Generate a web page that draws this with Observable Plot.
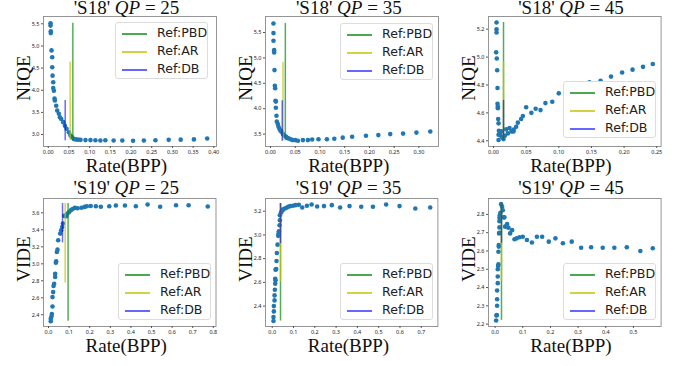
<!DOCTYPE html>
<html><head><meta charset="utf-8">
<script src="https://cdn.jsdelivr.net/npm/d3@7"></script>
<script src="https://cdn.jsdelivr.net/npm/@observablehq/plot@0.6"></script>
<style>
body{margin:0;background:#fff;}
#root{position:relative;width:678px;height:366px;overflow:hidden;background:#fff;}
#root svg.pane{position:absolute;overflow:visible;}
#labels{position:absolute;left:0;top:0;}
#labels text{font-family:'Liberation Serif','Times New Roman',serif;font-size:19px;fill:#111;}
.legend{position:absolute;background:#fff;border:1px solid #dcdcdc;border-radius:3px;box-sizing:border-box;font-family:'DejaVu Sans',sans-serif;font-size:12.6px;color:#222;}
.legend svg{position:absolute;left:0;top:0;}
.legend .tx{position:absolute;line-height:1;transform:translateY(-52%);white-space:nowrap;}
</style></head>
<body><div id="root"></div>
<script>
// ---------- data ----------
const refNames = ["Ref:PBD", "Ref:AR", "Ref:DB"];

// 'S18' QP=25 (NIQE)
const s18q25Rate = [0.0056,0.0056,0.0062,0.0062,0.0080,0.0097,0.0097,0.0105,0.0121,0.0121,0.0137,0.0153,0.0161,0.0193,0.0217,0.0257,0.0282,0.0314,0.0362,0.0403,0.0443,0.0499,0.0539,0.0580,0.062,0.066,0.072,0.078,0.090,0.102,0.114,0.126,0.138,0.158,0.179,0.205,0.231,0.259,0.291,0.320,0.352,0.384];
const s18q25Niqe = [5.51,5.46,5.33,5.29,4.90,4.745,4.52,4.33,4.18,4.05,3.99,3.81,3.77,3.65,3.54,3.47,3.39,3.35,3.28,3.20,3.13,3.05,2.98,2.94,2.90,2.89,2.885,2.88,2.875,2.875,2.87,2.865,2.87,2.865,2.865,2.86,2.865,2.87,2.88,2.885,2.89,2.91];
const s18q25RefX = [0.0595, 0.053, 0.041];
const s18q25RefLo = [2.865, 2.865, 2.86];
const s18q25RefHi = [5.51, 4.63, 3.77];

// 'S18' QP=35 (NIQE)
const s18q35Rate = [0.006,0.006,0.006,0.0074,0.0074,0.0081,0.0088,0.0094,0.0101,0.0108,0.0108,0.0121,0.0128,0.0148,0.0162,0.0182,0.0202,0.0222,0.025,0.0283,0.0317,0.035,0.0384,0.0418,0.045,0.050,0.0554,0.0655,0.0756,0.0843,0.097,0.114,0.129,0.146,0.165,0.193,0.218,0.242,0.268,0.295,0.323];
const s18q35Niqe = [5.677,5.488,5.337,5.153,5.106,4.76,4.45,4.405,4.156,4.14,4.02,3.86,3.748,3.697,3.644,3.60,3.566,3.547,3.50,3.467,3.447,3.42,3.409,3.395,3.382,3.382,3.37,3.382,3.382,3.395,3.40,3.40,3.41,3.43,3.447,3.467,3.48,3.50,3.51,3.53,3.55];
const s18q35RefX = [0.030, 0.0253, 0.0237];
const s18q35RefLo = [3.37, 3.37, 3.36];
const s18q35RefHi = [5.677, 4.91, 4.156];

// 'S18' QP=45 (NIQE)
const s18q45Rate = [0.0046,0.0046,0.0046,0.0040,0.0050,0.0056,0.0061,0.0061,0.0066,0.0066,0.0071,0.0077,0.0082,0.0077,0.0077,0.0097,0.0107,0.0122,0.0133,0.0153,0.0173,0.0194,0.0219,0.0245,0.0276,0.0306,0.031,0.0347,0.0372,0.0423,0.0449,0.050,0.058,0.0645,0.072,0.0795,0.090,0.100,0.115,0.130,0.147,0.164,0.180,0.197,0.213,0.229,0.244];
const s18q45Niqe = [5.248,5.200,5.176,5.034,4.990,4.906,4.778,4.665,4.646,4.634,4.556,4.525,4.472,4.443,4.405,4.453,4.438,4.467,4.424,4.412,4.436,4.482,4.453,4.491,4.467,4.467,4.48,4.501,4.53,4.556,4.578,4.64,4.60,4.63,4.62,4.67,4.68,4.74,4.76,4.79,4.82,4.83,4.86,4.89,4.91,4.93,4.95];
const s18q45RefX = [0.0153, 0.0153, 0.0153];
const s18q45RefLo = [4.405, 4.405, 4.405];
const s18q45RefHi = [5.248, 4.966, 4.689];

// 'S19' QP=25 (VIDE)
const s19q25Rate = [0.011,0.011,0.0146,0.0162,0.0194,0.0194,0.0227,0.0243,0.0275,0.0324,0.0324,0.0356,0.0373,0.0405,0.0437,0.047,0.0567,0.0616,0.0664,0.0697,0.0761,0.081,0.0859,0.0923,0.1004,0.1085,0.1166,0.128,0.141,0.16,0.175,0.186,0.205,0.23,0.254,0.295,0.327,0.371,0.424,0.481,0.542,0.619,0.68,0.773];
const s19q25Vide = [2.325,2.352,2.379,2.41,2.497,2.608,2.667,2.738,2.765,2.844,2.883,3.013,3.03,3.14,3.167,3.277,3.356,3.395,3.434,3.474,3.564,3.564,3.56,3.592,3.61,3.63,3.645,3.659,3.655,3.66,3.67,3.678,3.68,3.678,3.672,3.678,3.686,3.686,3.678,3.698,3.672,3.69,3.69,3.674];
const s19q25RefX = [0.095, 0.081, 0.068];
const s19q25RefLo = [2.325, 2.774, 3.246];
const s19q25RefHi = [3.71, 3.71, 3.71];

// 'S19' QP=35 (VIDE)
const s19q35Rate = [0.006,0.006,0.0078,0.0078,0.011,0.011,0.0125,0.0141,0.0156,0.0141,0.0156,0.0188,0.0203,0.0219,0.025,0.0282,0.0297,0.0313,0.0344,0.036,0.036,0.0407,0.0438,0.0485,0.0516,0.0595,0.0673,0.0751,0.0845,0.097,0.109,0.125,0.141,0.163,0.185,0.211,0.243,0.28,0.319,0.363,0.418,0.473,0.535,0.598,0.672,0.742];
const s19q35Vide = [2.274,2.307,2.355,2.40,2.448,2.49,2.538,2.589,2.617,2.63,2.707,2.712,2.78,2.848,2.918,2.992,3.012,3.031,3.082,3.124,3.166,3.186,3.195,3.209,3.215,3.223,3.229,3.237,3.243,3.246,3.251,3.254,3.231,3.246,3.257,3.240,3.243,3.251,3.231,3.243,3.237,3.237,3.257,3.243,3.223,3.231];
const s19q35RefX = [0.039, 0.039, 0.039];
const s19q35RefLo = [2.274, 2.603, 2.927];
const s19q35RefHi = [3.265, 3.265, 3.265];

// 'S19' QP=45 (VIDE)
const s19q45Rate = [0.0036,0.0048,0.006,0.0072,0.0072,0.0072,0.0096,0.0096,0.0096,0.0108,0.012,0.012,0.0133,0.0133,0.0145,0.0157,0.0157,0.0157,0.0157,0.0169,0.0193,0.0217,0.0253,0.0277,0.0301,0.0337,0.0361,0.0398,0.0434,0.0482,0.0542,0.0614,0.070,0.078,0.088,0.10,0.115,0.133,0.151,0.17,0.194,0.218,0.245,0.277,0.311,0.347,0.389,0.431,0.476,0.525,0.57];
const s19q45Vide = [2.22,2.247,2.25,2.30,2.336,2.384,2.424,2.46,2.50,2.518,2.527,2.596,2.624,2.633,2.696,2.70,2.729,2.763,2.782,2.796,2.809,2.856,2.842,2.823,2.784,2.784,2.733,2.735,2.747,2.727,2.696,2.714,2.664,2.669,2.675,2.678,2.66,2.646,2.678,2.678,2.651,2.669,2.642,2.651,2.618,2.62,2.618,2.618,2.62,2.60,2.615];
const s19q45RefX = [0.023, 0.023, 0.023];
const s19q45RefLo = [2.22, 2.433, 2.642];
const s19q45RefHi = [2.856, 2.856, 2.856];

// tick values
const ticksX_s18q25 = [0,0.05,0.10,0.15,0.20,0.25,0.30,0.35,0.40];
const ticksY_s18q25 = [3.0,3.5,4.0,4.5,5.0,5.5];
const ticksX_s18q35 = [0,0.05,0.10,0.15,0.20,0.25,0.30];
const ticksY_s18q35 = [3.5,4.0,4.5,5.0,5.5];
const ticksX_s18q45 = [0,0.05,0.10,0.15,0.20,0.25];
const ticksY_s18q45 = [4.4,4.6,4.8,5.0,5.2];
const ticksX_s19q25 = [0,0.1,0.2,0.3,0.4,0.5,0.6,0.7,0.8];
const ticksY_s19q25 = [2.4,2.6,2.8,3.0,3.2,3.4,3.6];
const ticksX_s19q35 = [0,0.1,0.2,0.3,0.4,0.5,0.6,0.7];
const ticksY_s19q35 = [2.4,2.6,2.8,3.0,3.2];
const ticksX_s19q45 = [0,0.1,0.2,0.3,0.4,0.5];
const ticksY_s19q45 = [2.2,2.3,2.4,2.5,2.6,2.7,2.8];

// ---------- styles / layout ----------
const refStyle = [
  {stroke: "#0a8a0a", opacity: 0.7, legend: "#4caa4c"},
  {stroke: "#c4c400", opacity: 0.72, legend: "#d2d240"},
  {stroke: "#0000ff", opacity: 0.58, legend: "#6666ff"}
];
const dotColor = "#1f77b4";

const panels = [
  {seq:"'S18' ", qpv:"25", ylab:"NIQE", rate:s18q25Rate, score:s18q25Niqe, rx:s18q25RefX, rlo:s18q25RefLo, rhi:s18q25RefHi,
   frame:[43,216,16,146], xd:[-0.0114,0.4065], yd:[2.73,5.665], tx:ticksX_s18q25, ty:ticksY_s18q25, fx:".2f", fy:".1f", leg:[115,22]},
  {seq:"'S18' ", qpv:"35", ylab:"NIQE", rate:s18q35Rate, score:s18q35Niqe, rx:s18q35RefX, rlo:s18q35RefLo, rhi:s18q35RefHi,
   frame:[265.3,438.3,16,146], xd:[-0.0101,0.3396], yd:[3.256,5.815], tx:ticksX_s18q35, ty:ticksY_s18q35, fx:".2f", fy:".1f", leg:[340,23]},
  {seq:"'S18' ", qpv:"45", ylab:"NIQE", rate:s18q45Rate, score:s18q45Niqe, rx:s18q45RefX, rlo:s18q45RefLo, rhi:s18q45RefHi,
   frame:[487.7,660.3,16,146], xd:[-0.0077,0.2567], yd:[4.359,5.291], tx:ticksX_s18q45, ty:ticksY_s18q45, fx:".2f", fy:".1f", leg:[563,81]},
  {seq:"'S19' ", qpv:"25", ylab:"VIDE", rate:s19q25Rate, score:s19q25Vide, rx:s19q25RefX, rlo:s19q25RefLo, rhi:s19q25RefHi,
   frame:[43,215.5,198,326], xd:[-0.0243,0.813], yd:[2.262,3.769], tx:ticksX_s19q25, ty:ticksY_s19q25, fx:".1f", fy:".1f", leg:[118,263]},
  {seq:"'S19' ", qpv:"35", ylab:"VIDE", rate:s19q35Rate, score:s19q35Vide, rx:s19q35RefX, rlo:s19q35RefLo, rhi:s19q35RefHi,
   frame:[265.3,437.7,198,326], xd:[-0.0315,0.778], yd:[2.228,3.307], tx:ticksX_s19q35, ty:ticksY_s19q35, fx:".1f", fy:".1f", leg:[340,263]},
  {seq:"'S19' ", qpv:"45", ylab:"VIDE", rate:s19q45Rate, score:s19q45Vide, rx:s19q45RefX, rlo:s19q45RefLo, rhi:s19q45RefHi,
   frame:[487.7,660.3,198,326], xd:[-0.0239,0.60], yd:[2.187,2.887], tx:ticksX_s19q45, ty:ticksY_s19q45, fx:".1f", fy:".1f", leg:[563,263]}
];

const root = document.getElementById("root");
const mL = 30, mR = 2, mT = 2, mB = 14;
const NS = "http://www.w3.org/2000/svg";
const overlay = document.createElementNS(NS, "svg");
overlay.setAttribute("id", "labels");
overlay.setAttribute("width", 678);
overlay.setAttribute("height", 366);

function el(tag, attrs, content) {
  const e = document.createElementNS(NS, tag);
  for (const k in attrs) e.setAttribute(k, attrs[k]);
  if (content != null) e.textContent = content;
  return e;
}

panels.forEach((p, pi) => {
  const [x0, x1, y0, y1] = p.frame;
  const fw = x1 - x0, fh = y1 - y0;
  const idx = d3.range(p.rate.length);
  const svg = Plot.plot({
    width: fw + mL + mR,
    height: fh + mT + mB,
    marginLeft: mL, marginRight: mR, marginTop: mT, marginBottom: mB,
    style: {background: "transparent", color: "#222", overflow: "visible"},
    x: {domain: p.xd, label: null},
    y: {domain: p.yd, label: null},
    marks: [
      Plot.dot(idx, {x: i => p.rate[i], y: i => p.score[i], r: 2.3, fill: dotColor, stroke: "none"}),
      ...[0, 1, 2].map(k => Plot.ruleX([k], {x: i => p.rx[i], y1: i => p.rlo[i], y2: i => p.rhi[i],
        stroke: refStyle[k].stroke, strokeOpacity: refStyle[k].opacity, strokeWidth: 1.5})),
      Plot.frame({stroke: "#8a8a8a", strokeWidth: 0.9}),
      Plot.axisX({ticks: p.tx, tickFormat: d3.format(p.fx), tickSize: 2, tickPadding: 2, fontSize: 5.5, label: null, stroke: "#555"}),
      Plot.axisY({ticks: p.ty, tickFormat: d3.format(p.fy), tickSize: 2, tickPadding: 2, fontSize: 5.5, label: null, stroke: "#555"})
    ]
  });
  svg.classList.add("pane");
  svg.style.left = (x0 - mL) + "px";
  svg.style.top = (y0 - mT) + "px";
  root.appendChild(svg);

  const cx = (x0 + x1) / 2;
  const titleY = pi < 3 ? 13.5 : y0 - 4.5;
  const t = el("text", {x: cx - 3, y: titleY, "text-anchor": "middle"});
  t.append(el("tspan", {}, p.seq), el("tspan", {"font-style": "italic"}, "QP"), el("tspan", {}, " = " + p.qpv));
  overlay.appendChild(t);
  overlay.appendChild(el("text", {x: cx - 3, y: y1 + 26, "text-anchor": "middle"}, "Rate(BPP)"));
  overlay.appendChild(el("text", {transform: `translate(${x0 - 13},${(y0 + y1) / 2 - 3}) rotate(-90)`, "text-anchor": "middle"}, p.ylab));

  // legend
  const lg = document.createElement("div");
  lg.className = "legend";
  lg.style.left = p.leg[0] + "px";
  lg.style.top = p.leg[1] + "px";
  lg.style.width = "93px";
  lg.style.height = "57px";
  const rowsY = [11, 29, 47];
  const ls = el("svg", {width: 40, height: 57});
  refNames.forEach((n, k) => {
    ls.appendChild(el("line", {x1: 6, x2: 31, y1: rowsY[k], y2: rowsY[k], stroke: refStyle[k].legend, "stroke-width": 2}));
    const tx = document.createElement("div");
    tx.className = "tx";
    tx.style.left = "41px";
    tx.style.top = rowsY[k] + "px";
    tx.textContent = n;
    lg.appendChild(tx);
  });
  lg.appendChild(ls);
  root.appendChild(lg);
});
root.appendChild(overlay);
</script>
</body></html>
